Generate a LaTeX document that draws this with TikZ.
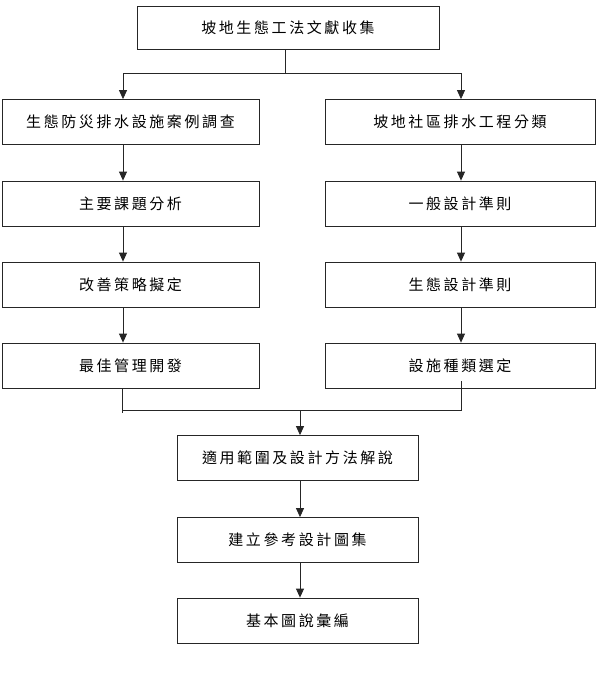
\documentclass[tikz,border=0pt]{standalone}
\usepackage{fontspec}
\newfontfamily\cjk{Noto Sans CJK TC}
\usetikzlibrary{arrows.meta,calc}
\newdimen\lspk \lspk=2.6pt
\def\lsp#1{\lspa#1\relax}
\def\lspa#1#2{#1\ifx#2\relax\else\kern\lspk\expandafter\lspa\expandafter#2\fi}
\begin{document}
\begin{tikzpicture}[x=1pt,y=-1pt,
  box/.style={draw=black!85, line width=0.8pt, minimum height=45pt, inner sep=0pt,
    font=\cjk\fontsize{15}{17}\selectfont},
  lbox/.style={box, minimum width=257pt},
  rbox/.style={box, minimum width=270pt},
  bbox/.style={box, minimum width=241pt},
  arr/.style={-{Triangle[length=9pt,width=8pt]}, line width=0.8pt, draw=black!85},
  ln/.style={line width=0.8pt, draw=black!85}]
\fill[white] (0,0) rectangle (598,696);
\useasboundingbox (0,0) rectangle (598,696);
\node[box, minimum width=302pt, minimum height=43pt] (t) at (288,27.5) {\lsp{坡地生態工法文獻收集}};
\node[lbox] (l1) at (130.5,122) {\lsp{生態防災排水設施案例調查}};
\node[lbox] (l2) at (130.5,203.5) {\lsp{主要課題分析}};
\node[lbox] (l3) at (130.5,284.5) {\lsp{改善策略擬定}};
\node[lbox] (l4) at (130.5,365.5) {\lsp{最佳管理開發}};
\node[rbox] (r1) at (460,122) {\lsp{坡地社區排水工程分類}};
\node[rbox] (r2) at (460,203.5) {\lsp{一般設計準則}};
\node[rbox] (r3) at (460,284.5) {\lsp{生態設計準則}};
\node[rbox] (r4) at (460,365.5) {\lsp{設施種類選定}};
\node[bbox] (b1) at (297.5,458) {\lsp{適用範圍及設計方法解說}};
\node[bbox] (b2) at (297.5,540) {\lsp{建立參考設計圖集}};
\node[bbox] (b3) at (297.5,620.5) {\lsp{基本圖說彙編}};
\coordinate (s) at (285,73);
\draw[ln] ([xshift=-3pt]t.south) -- (s);
\draw[arr] (s) -| ([xshift=-7.5pt]l1.north);
\draw[arr] (s) -| ([xshift=1pt]r1.north);
\draw[arr] ([xshift=-7.5pt]l1.south) -- ([xshift=-7.5pt]l2.north);
\draw[arr] ([xshift=-7.5pt]l2.south) -- ([xshift=-7.5pt]l3.north);
\draw[arr] ([xshift=-7.5pt]l3.south) -- ([xshift=-7.5pt]l4.north);
\draw[arr] ([xshift=1pt]r1.south) -- ([xshift=1pt]r2.north);
\draw[arr] ([xshift=1pt]r2.south) -- ([xshift=1pt]r3.north);
\draw[arr] ([xshift=1pt]r3.south) -- ([xshift=1pt]r4.north);
\coordinate (m) at (300,410);
\draw[ln] ([xshift=-8.5pt]l4.south) -- ++(0,25);
\draw[ln] ([xshift=1pt,yshift=7pt]r4.south) |- ([xshift=-8.5pt]l4.south |- m);
\draw[arr] (m) -- (m |- b1.north);
\draw[arr] ([xshift=2.5pt]b1.south) -- ([xshift=2.5pt]b2.north);
\draw[arr] ([xshift=2.5pt]b2.south) -- ([xshift=2.5pt]b3.north);
\end{tikzpicture}
\end{document}
